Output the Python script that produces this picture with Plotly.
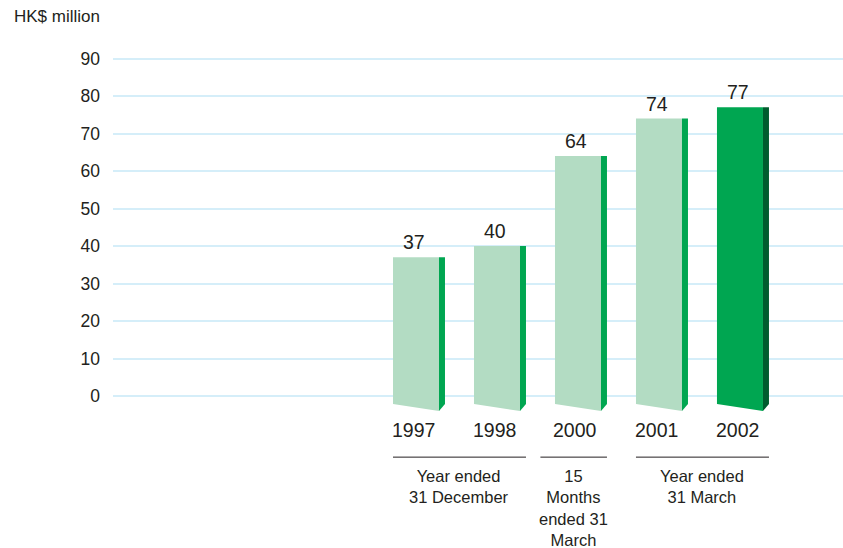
import plotly.graph_objects as go

years = ["1997", "1998", "2000", "2001", "2002"]
values = [37, 40, 64, 74, 77]
y_ticks = [0, 10, 20, 30, 40, 50, 60, 70, 80, 90]
groups = ["Year ended<br>31 December", "15<br>Months<br>ended 31<br>March", "Year ended<br>31 March"]
group_members = [[0, 1], [2], [3, 4]]
unit_label = "HK$ million"

FONT = "Liberation Sans, Arial, sans-serif"
TXT = "#231f20"
front_w = 0.568
side_w = 0.074
drop_l = -2.1
drop_r = -4.0

W, H = 843, 548
ML, MT, MB = 113, 21, 2
Y_LO, Y_HI = -40, 100

fig = go.Figure()
for i, (yr, v) in enumerate(zip(years, values)):
    last = i == len(values) - 1
    fcol = "#00a651" if last else "#b3dcc3"
    scol = "#005c2e" if last else "#00a651"
    x0 = i - front_w / 2
    x1 = i + front_w / 2
    x2 = x1 + side_w
    fig.add_trace(go.Scatter(x=[x0, x1, x1, x0, x0], y=[v, v, drop_r, drop_l, v],
                             fill="toself", fillcolor=fcol, mode="lines",
                             line=dict(width=0), hoverinfo="skip", showlegend=False))
    fig.add_trace(go.Scatter(x=[x1, x2, x2, x1, x1], y=[v, v, drop_l, drop_r, v],
                             fill="toself", fillcolor=scol, mode="lines",
                             line=dict(width=0), hoverinfo="skip", showlegend=False))
    fig.add_annotation(x=i - 0.03, y=v, text=str(v), showarrow=False,
                       yanchor="bottom", yshift=2, font=dict(family=FONT, size=19.5, color=TXT))
    fig.add_annotation(x=i - 0.035, y=-9.0, text=yr, showarrow=False,
                       font=dict(family=FONT, size=19.5, color=TXT))

for g, mem in zip(groups, group_members):
    a = min(mem) - front_w / 2
    b = max(mem) + front_w / 2 + side_w
    if len(mem) == 1:
        a -= 0.18
    fig.add_shape(type="line", x0=a, x1=b, y0=-16.3, y1=-16.3,
                  line=dict(color=TXT, width=1))
    fig.add_annotation(x=(a + b) / 2, y=-18.3, text=g, showarrow=False, yanchor="top",
                       align="center", font=dict(family=FONT, size=16.5, color=TXT))

plot_w = W - ML
plot_h = H - MT - MB
fig.add_annotation(xref="paper", yref="paper", x=(12 - ML) / plot_w, xanchor="left",
                   y=(H - MB - 17) / plot_h, yanchor="middle", text=unit_label,
                   showarrow=False, font=dict(family=FONT, size=17, color=TXT))

fig.update_layout(
    width=W, height=H,
    margin=dict(l=ML, r=0, t=MT, b=MB),
    plot_bgcolor="white", paper_bgcolor="white",
    xaxis=dict(range=[-3.741, 5.272], showgrid=False, zeroline=False,
               showticklabels=False, ticks="", showline=False),
    yaxis=dict(range=[Y_LO, Y_HI], tickvals=y_ticks, showgrid=True,
               gridcolor="#d5eef9", gridwidth=2, zeroline=False, showline=False,
               ticks="", ticklabelstandoff=12,
               tickfont=dict(family=FONT, size=17.5, color=TXT)),
)
fig.write_html("out.html", config={"displayModeBar": False},
               post_script="document.body.style.margin='0';document.body.style.overflow='hidden';")
